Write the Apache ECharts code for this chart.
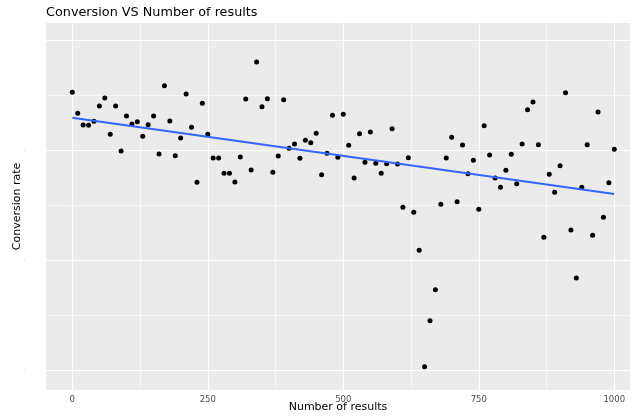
<!DOCTYPE html>
<html>
<head>
<meta charset="utf-8">
<script src="https://cdn.jsdelivr.net/npm/echarts@6/dist/echarts.min.js"></script>
<style>
html,body{margin:0;padding:0;background:#fff;}
#chart{width:637px;height:418px;}
</style>
</head>
<body>
<div id="chart"></div>
<script>
// Number of results (x) and conversion rate (y)
const numResults = [0,10,20,30,40,50,60,70,80,90,100,110,120,130,140,150,160,170,180,190,200,210,220,230,240,250,260,270,280,290,300,310,320,330,340,350,360,370,380,390,400,410,420,430,440,450,460,470,480,490,500,510,520,530,540,550,560,570,580,590,600,610,620,630,640,650,660,670,680,690,700,710,720,730,740,750,760,770,780,790,800,810,820,830,840,850,860,870,880,890,900,910,920,930,940,950,960,970,980,990,1000];
const conversionRate = [0.2525,0.2334,0.2227,0.2225,0.2261,0.2400,0.2473,0.2143,0.2400,0.1991,0.2309,0.2236,0.2257,0.2125,0.2230,0.2309,0.1964,0.2585,0.2264,0.1948,0.2109,0.2509,0.2206,0.1706,0.2425,0.2143,0.1927,0.1927,0.1788,0.1788,0.1709,0.1936,0.2464,0.1818,0.2800,0.2394,0.2466,0.1797,0.1945,0.2457,0.2015,0.2055,0.1925,0.2088,0.2066,0.2152,0.1775,0.1970,0.2315,0.1934,0.2325,0.2043,0.1745,0.2148,0.1888,0.2164,0.1879,0.1788,0.1875,0.2194,0.1873,0.1479,0.1930,0.1434,0.1088,0.0030,0.0448,0.0730,0.1506,0.1927,0.2115,0.1530,0.2045,0.1785,0.1906,0.1461,0.2221,0.1955,0.1745,0.1661,0.1815,0.1961,0.1694,0.2055,0.2366,0.2436,0.2048,0.1206,0.1779,0.1615,0.1857,0.2521,0.1273,0.0836,0.1661,0.2048,0.1225,0.2345,0.1388,0.1703,0.2006];
const xTicks = [0,250,500,750,1000];
const xMinorTicks = [125,375,625,875];
const yTicks = [0,0.1,0.2,0.3];
const yMinorTicks = [0.05,0.15,0.25];

// least-squares fit (geom_smooth, method = lm)
const n = numResults.length;
let sx=0, sy=0, sxx=0, sxy=0;
for (let i=0;i<n;i++){ sx+=numResults[i]; sy+=conversionRate[i]; sxx+=numResults[i]*numResults[i]; sxy+=numResults[i]*conversionRate[i]; }
const slope = (n*sxy - sx*sy)/(n*sxx - sx*sx);
const intercept = (sy - slope*sx)/n;
const xLo = Math.min(...numResults), xHi = Math.max(...numResults);
const fitLine = [[xLo, intercept + slope*xLo],[xHi, intercept + slope*xHi]];

const points = numResults.map((x,i)=>[x, conversionRate[i]]);

function gridLines(values, axis, width){
  return values.map(v => ({[axis]: v, lineStyle:{color:'#ffffff', width: width, type:'solid'}}));
}

const chart = echarts.init(document.getElementById('chart'), null, {renderer:'canvas'});
chart.setOption({
  animation:false,
  backgroundColor:'#ffffff',
  title:{
    text:'Conversion VS Number of results',
    left:41, top:1,
    textStyle:{fontFamily:'DejaVu Sans', fontSize:12.8, fontWeight:'normal', color:'#000'}
  },
  grid:{
    left:46, right:7, top:23, bottom:28,
    outerBoundsMode:'none', containLabel:false,
    show:true, backgroundColor:'#EBEBEB', borderWidth:0
  },
  xAxis:{
    type:'value', min:-48.5, max:1029,
    name:'Number of results', nameLocation:'middle', nameGap:12, nameMoveOverlap:false,
    nameTextStyle:{fontFamily:'DejaVu Sans', fontSize:11, color:'#000'},
    axisLine:{show:false},
    axisTick:{show:true, length:3, customValues:xTicks, lineStyle:{color:'#333', width:1}},
    axisLabel:{customValues:xTicks, formatter:function(v){return String(v);}, fontFamily:'DejaVu Sans', fontSize:8.5, color:'#4d4d4d', margin:5},
    splitLine:{show:false}
  },
  yAxis:{
    type:'value', min:-0.01818, max:0.31545,
    name:'Conversion rate', nameLocation:'middle', nameGap:23, nameRotate:90, nameMoveOverlap:false,
    nameTextStyle:{fontFamily:'DejaVu Sans', fontSize:11, color:'#000'},
    axisLine:{show:false},
    axisTick:{show:true, length:3, customValues:yTicks, lineStyle:{color:'#333', width:1}},
    axisLabel:{customValues:yTicks, formatter:function(){return '|';}, fontFamily:'DejaVu Sans', fontSize:3, color:'#cccccc', margin:21},
    splitLine:{show:false}
  },
  series:[
    {
      type:'scatter', data:[], silent:true, z:1,
      markLine:{
        z:1, zlevel:0,
        silent:true, symbol:['none','none'], label:{show:false}, animation:false,
        data: [].concat(
          gridLines(xMinorTicks,'xAxis',0.6),
          gridLines(yMinorTicks,'yAxis',0.6),
          gridLines(xTicks,'xAxis',1.1),
          gridLines(yTicks,'yAxis',1.1)
        )
      }
    },
    {
      type:'scatter', data:points, symbolSize:5, z:3,
      itemStyle:{color:'#000000', opacity:1}
    },
    {
      type:'line', data:fitLine, showSymbol:false, z:4,
      lineStyle:{color:'#3366FF', width:2}
    }
  ]
});
</script>
</body>
</html>
